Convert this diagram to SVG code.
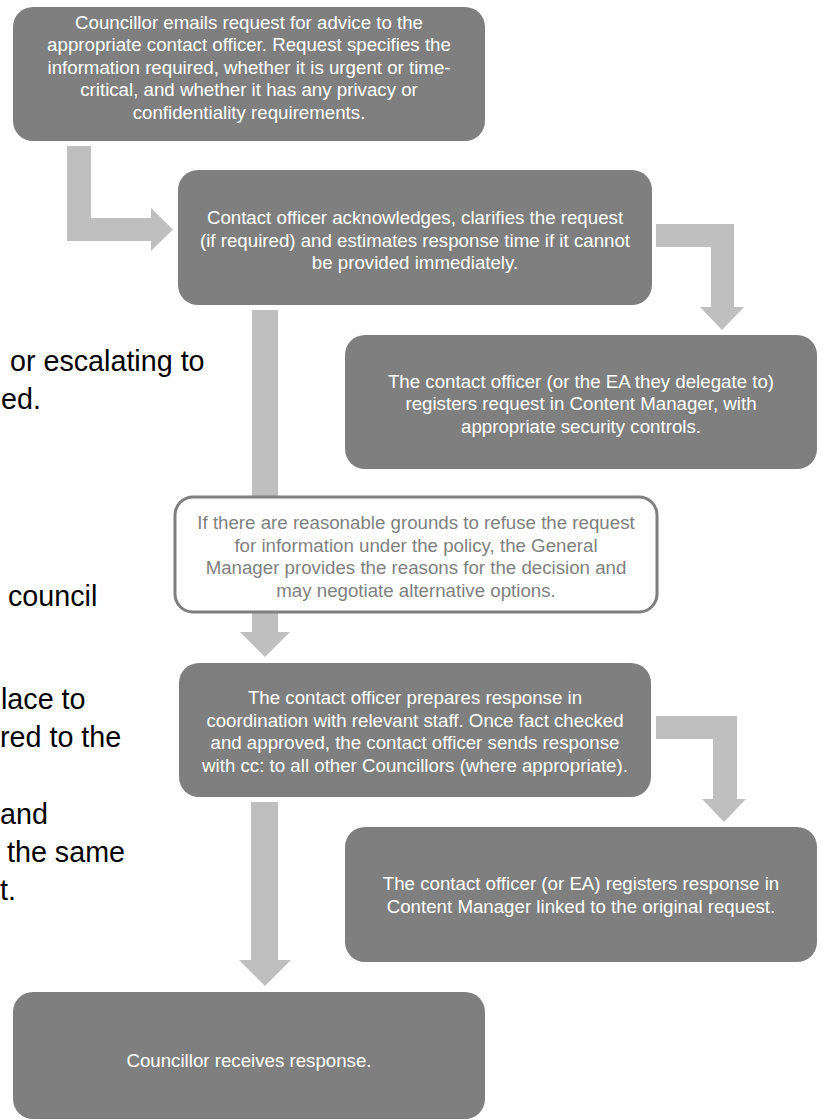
<svg xmlns="http://www.w3.org/2000/svg" width="824" height="1120" viewBox="0 0 824 1120">
<style>
.box{fill:#7f7f7f}
.wbox{fill:#ffffff;stroke:#7f7f7f;stroke-width:3}
.t{font-family:"Liberation Sans",Arial,sans-serif;font-size:18.7px;fill:#ffffff;text-anchor:middle}
.g{fill:#7f7f7f}
.bg{font-family:"Liberation Sans",Arial,sans-serif;font-size:28.7px;fill:#000000}
.arr{fill:#bfbfbf}
</style>
<rect width="824" height="1120" fill="#ffffff"/>
<g id="background-text">
<text class="bg" x="10" y="371">or escalating to</text>
<text class="bg" x="1" y="409">ed.</text>
<text class="bg" x="8" y="606">council</text>
<text class="bg" x="1" y="709">lace to</text>
<text class="bg" x="0" y="747">red to the</text>
<text class="bg" x="0" y="824">and</text>
<text class="bg" x="7" y="862">the same</text>
<text class="bg" x="0" y="900">t.</text>
</g>
<g id="connectors">
<polygon class="arr" points="67,146 91,146 91,218 151,218 151,208 173,229.5 151,251 151,241 67,241"/>
<polygon class="arr" points="656,224 734,224 734,307 744,307 722,330 700,307 711,307 711,247 656,247"/>
<polygon class="arr" points="252,310 278,310 278,632 290,632 265,657 240,632 252,632"/>
<polygon class="arr" points="656,716 737,716 737,799 746,799 724,822 702,799 713,799 713,739 656,739"/>
<polygon class="arr" points="251,802 278,802 278,960 291,960 265,986 239,960 251,960"/>
</g>
<g id="node-request">
<rect class="box" x="13" y="7" width="472" height="134" rx="20"/>
<text class="t" x="249" y="28.5">Councillor emails request for advice to the</text>
<text class="t" x="249" y="51">appropriate contact officer. Request specifies the</text>
<text class="t" x="249" y="73.5">information required, whether it is urgent or time-</text>
<text class="t" x="249" y="96">critical, and whether it has any privacy or</text>
<text class="t" x="249" y="118.5">confidentiality requirements.</text>
</g>
<g id="node-acknowledge">
<rect class="box" x="178" y="170" width="474" height="135" rx="20"/>
<text class="t" x="415" y="224">Contact officer acknowledges, clarifies the request</text>
<text class="t" x="415" y="246.5">(if required) and estimates response time if it cannot</text>
<text class="t" x="415" y="269">be provided immediately.</text>
</g>
<g id="node-register-request">
<rect class="box" x="345" y="335" width="472" height="134" rx="20"/>
<text class="t" x="581" y="387.5">The contact officer (or the EA they delegate to)</text>
<text class="t" x="581" y="410">registers request in Content Manager, with</text>
<text class="t" x="581" y="432.5">appropriate security controls.</text>
</g>
<g id="node-refuse">
<rect class="wbox" x="175" y="497" width="482" height="115" rx="18"/>
<text class="t g" x="416" y="529">If there are reasonable grounds to refuse the request</text>
<text class="t g" x="416" y="551.5">for information under the policy, the General</text>
<text class="t g" x="416" y="574">Manager provides the reasons for the decision and</text>
<text class="t g" x="416" y="596.5">may negotiate alternative options.</text>
</g>
<g id="node-prepare">
<rect class="box" x="179" y="663" width="472" height="134" rx="20"/>
<text class="t" x="415" y="704">The contact officer prepares response in</text>
<text class="t" x="415" y="726.5">coordination with relevant staff. Once fact checked</text>
<text class="t" x="415" y="749">and approved, the contact officer sends response</text>
<text class="t" x="415" y="771.5">with cc: to all other Councillors (where appropriate).</text>
</g>
<g id="node-register-response">
<rect class="box" x="345" y="827" width="472" height="135" rx="20"/>
<text class="t" x="581" y="890">The contact officer (or EA) registers response in</text>
<text class="t" x="581" y="912.5">Content Manager linked to the original request.</text>
</g>
<g id="node-receive">
<rect class="box" x="13" y="992" width="472" height="127" rx="20"/>
<text class="t" x="249" y="1066.5">Councillor receives response.</text>
</g>
</svg>
